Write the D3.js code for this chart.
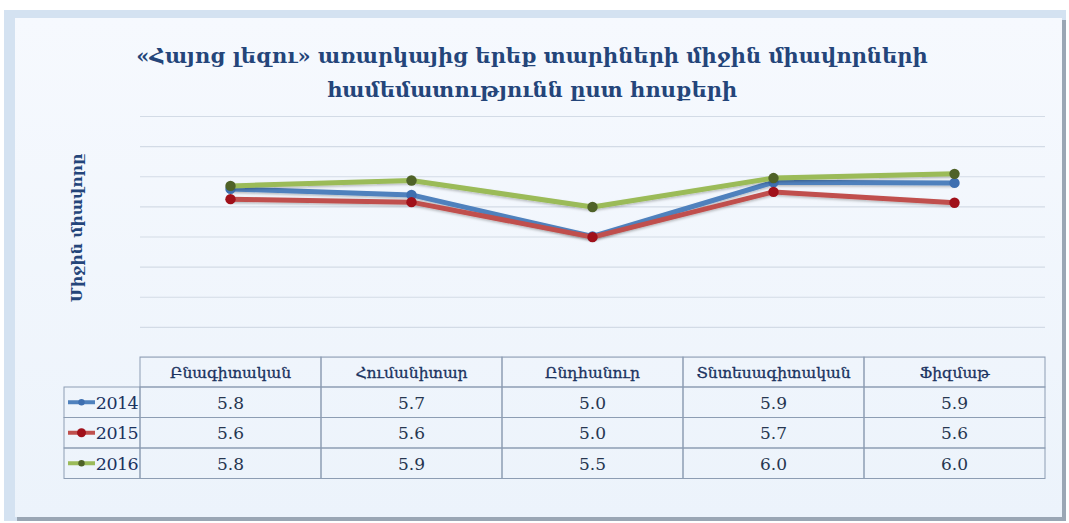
<!DOCTYPE html>
<html>
<head>
<meta charset="utf-8">
<script src="https://cdn.jsdelivr.net/npm/d3@7"></script>
<style>
  html, body { margin: 0; padding: 0; background: #ffffff; }
  svg { display: block; }
</style>
</head>
<body>
<svg id="chart" width="1069" height="523"></svg>
<script>
// ---- data ----
const categories = ["Բնագիտական", "Հումանիտար", "Ընդհանուր", "Տնտեսագիտական", "Ֆիզմաթ"];
const years = ["2014", "2015", "2016"];
const values2014 = [5.79, 5.69, 5.0, 5.90, 5.89];
const values2015 = [5.62, 5.57, 4.99, 5.74, 5.56];
const values2016 = [5.84, 5.93, 5.49, 5.97, 6.04];
const yTicks = [3.0, 3.5, 4.0, 4.5, 5.0, 5.5, 6.0, 6.5, 7.0];
const titleLines = ["«Հայոց լեզու» առարկայից երեք տարիների միջին միավորների", "համեմատությունն ըստ հոսքերի"];
const yAxisTitle = "Միջին միավորը";

const seriesColors = ["#4f81bd", "#c0504d", "#9bbb59"];
const markerColors = ["#3e6fb0", "#a0101a", "#4f6228"];
const series = [values2014, values2015, values2016].map((vals, i) => ({
  name: years[i], values: vals, color: seriesColors[i], marker: markerColors[i]
}));

const svg = d3.select("#chart");
const defs = svg.append("defs");

// background gradient
const g1 = defs.append("linearGradient").attr("id", "panelGrad").attr("x1", 0).attr("y1", 0).attr("x2", 0).attr("y2", 1);
g1.append("stop").attr("offset", "0%").attr("stop-color", "#f6f9fe");
g1.append("stop").attr("offset", "100%").attr("stop-color", "#ecf3fb");

const sh = defs.append("filter").attr("id", "lineShadow").attr("x", "-5%").attr("y", "-20%").attr("width", "110%").attr("height", "140%");
sh.append("feDropShadow").attr("dx", 0).attr("dy", 1.5).attr("stdDeviation", 1.2).attr("flood-color", "#000").attr("flood-opacity", 0.25);

// frame
svg.append("rect").attr("x", 4).attr("y", 10).attr("width", 1062).attr("height", 511).attr("fill", "#d4e2f1");
svg.append("rect").attr("x", 17).attr("y", 20).attr("width", 1049).attr("height", 501).attr("fill", "#9aa6b4");
svg.append("rect").attr("x", 15).attr("y", 18).attr("width", 1047).attr("height", 499).attr("fill", "url(#panelGrad)");

// scales
const plotLeft = 140, plotRight = 1045, plotTop = 116, plotBottom = 357;
const x = d3.scaleBand().domain(categories).range([plotLeft, plotRight]);
const y = d3.scaleLinear().domain([3, 7]).range([plotBottom, plotTop]);

// gridlines
const grid = svg.append("g").attr("class", "grid")
  .attr("transform", `translate(${plotLeft},0)`)
  .call(d3.axisLeft(y).tickValues(yTicks).tickSize(-(plotRight - plotLeft)).tickFormat(""));
grid.select(".domain").remove();
grid.selectAll(".tick line").attr("stroke", "#d3dbe6").attr("stroke-width", 1.2);

// title
const title = svg.append("text")
  .attr("x", 532).attr("y", 63)
  .attr("text-anchor", "middle")
  .attr("font-family", "'DejaVu Serif', serif")
  .attr("font-size", 21).attr("font-weight", "bold")
  .attr("fill", "#24457a");
titleLines.forEach((t, i) => {
  title.append("tspan").attr("x", 532).attr("dy", i === 0 ? 0 : 34).text(t);
});

// y axis title
svg.append("text")
  .attr("transform", "translate(82,228) rotate(-90)")
  .attr("text-anchor", "middle")
  .attr("font-family", "'DejaVu Serif', serif")
  .attr("font-size", 15.5).attr("font-weight", "bold")
  .attr("fill", "#24457a")
  .text(yAxisTitle);

// lines
const line = d3.line()
  .x((d, i) => x(categories[i]) + x.bandwidth() / 2)
  .y(d => y(d));

const sg = svg.append("g").selectAll("g.series").data(series).join("g").attr("class", "series");
sg.append("path")
  .attr("d", d => line(d.values))
  .attr("fill", "none")
  .attr("stroke", d => d.color)
  .attr("stroke-width", 5)
  .attr("stroke-linejoin", "round")
  .attr("filter", "url(#lineShadow)");
sg.selectAll("circle").data(d => d.values.map(v => ({ v, c: d.marker }))).join("circle")
  .attr("cx", (d, i) => x(categories[i]) + x.bandwidth() / 2)
  .attr("cy", d => y(d.v))
  .attr("r", 5.2)
  .attr("fill", d => d.c);

// data table
const tableTop = 357, headerH = 30, rowH = 30.5, labelLeft = 64;
const tbl = svg.append("g").attr("class", "table");
const border = "#8d9db3";
const fmt = d3.format(".1f");

// header cells
categories.forEach(c => {
  tbl.append("rect").attr("x", x(c)).attr("y", tableTop).attr("width", x.bandwidth()).attr("height", headerH)
    .attr("fill", "none").attr("stroke", border).attr("stroke-width", 1);
  tbl.append("text").attr("x", x(c) + x.bandwidth() / 2).attr("y", tableTop + headerH / 2 + 6)
    .attr("text-anchor", "middle").attr("font-family", "'DejaVu Serif', serif").attr("font-size", 15.5)
    .attr("fill", "#1a3260").attr("stroke", "#1a3260").attr("stroke-width", 0.3).text(c);
});

series.forEach((s, r) => {
  const ry = tableTop + headerH + r * rowH;
  tbl.append("rect").attr("x", labelLeft).attr("y", ry).attr("width", plotLeft - labelLeft).attr("height", rowH)
    .attr("fill", "none").attr("stroke", border).attr("stroke-width", 1);
  // legend key
  tbl.append("line").attr("x1", labelLeft + 4).attr("x2", labelLeft + 31).attr("y1", ry + rowH / 2).attr("y2", ry + rowH / 2)
    .attr("stroke", s.color).attr("stroke-width", 4);
  tbl.append("circle").attr("cx", labelLeft + 17.5).attr("cy", ry + rowH / 2).attr("r", r === 1 ? 4.5 : 3.2).attr("fill", s.marker);
  tbl.append("text").attr("x", plotLeft - 2).attr("y", ry + rowH / 2 + 6.5).attr("text-anchor", "end")
    .attr("font-family", "'DejaVu Serif', serif").attr("font-size", 17.5).attr("letter-spacing", -0.6)
    .attr("fill", "#1a3260").text(s.name);
  categories.forEach((c, i) => {
    tbl.append("rect").attr("x", x(c)).attr("y", ry).attr("width", x.bandwidth()).attr("height", rowH)
      .attr("fill", "none").attr("stroke", border).attr("stroke-width", 1);
    tbl.append("text").attr("x", x(c) + x.bandwidth() / 2).attr("y", ry + rowH / 2 + 6.5)
      .attr("text-anchor", "middle").attr("font-family", "'DejaVu Serif', serif").attr("font-size", 17)
      .attr("fill", "#263650").text(fmt(s.values[i]));
  });
});
</script>
</body>
</html>
